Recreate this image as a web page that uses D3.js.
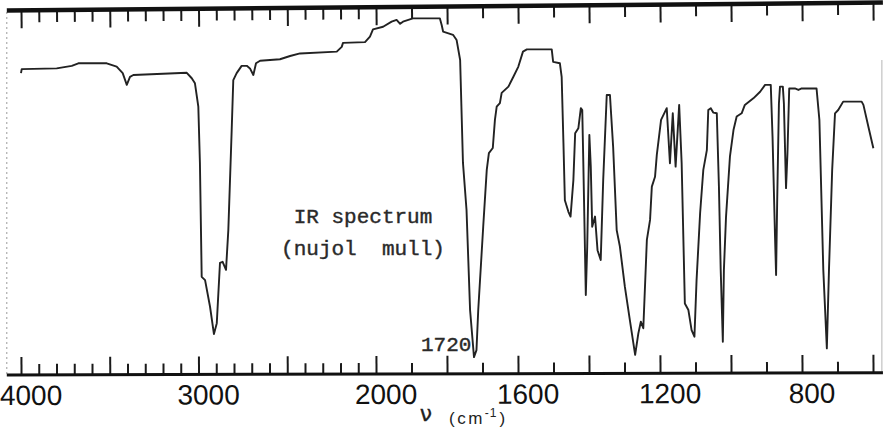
<!DOCTYPE html>
<html>
<head>
<meta charset="utf-8">
<script src="https://cdn.jsdelivr.net/npm/d3@7"></script>
<style>
  html, body { margin: 0; padding: 0; background: #ffffff; }
  svg { display: block; }
</style>
</head>
<body>
<svg id="chart" width="883" height="428"></svg>
<script>
// ---- data (wavenumber in cm^-1, transmittance in %) ----
const wavenumbers = [
  4000, 3996, 3799, 3714, 3677, 3517, 3461, 3427, 3404, 3386, 3367, 3066, 3038, 3020, 3001,
  2992, 2982, 2963, 2935, 2913, 2897, 2879, 2864, 2845, 2832, 2813, 2804, 2785, 2757, 2728,
  2710, 2691, 2676, 2653, 2541, 2484, 2428, 2221, 2193, 2186, 2062, 2034, 2017, 1980, 1956,
  1942, 1932, 1924, 1896, 1820, 1815, 1811, 1783, 1773, 1763, 1755, 1745, 1735, 1724, 1717,
  1712, 1698, 1688, 1682, 1671, 1665, 1660, 1651, 1646, 1627, 1613, 1599, 1586, 1575, 1505,
  1501, 1482, 1477, 1472, 1468, 1458, 1452, 1444, 1439, 1430, 1423, 1419, 1416, 1409, 1405,
  1399, 1395, 1391, 1383, 1376, 1367, 1360, 1350, 1341, 1332, 1322, 1313, 1299, 1285, 1270,
  1261, 1254, 1247, 1237, 1228, 1223, 1214, 1209, 1197, 1181, 1172, 1164, 1156, 1146, 1139,
  1130, 1120, 1111, 1103, 1097, 1087, 1078, 1068, 1064, 1057, 1050, 1040, 1034, 1029, 1023,
  1020, 1014, 1003, 993, 984, 970, 961, 937, 918, 904, 888, 883, 876, 873, 870,
  865, 862, 854, 851, 845, 841, 836, 820, 810, 801, 759, 751, 740, 730, 724,
  715, 707, 698, 684, 632, 627, 613, 599
];
const transmittance = [
  82.7, 83.8, 84.0, 84.7, 85.4, 85.4, 84.5, 82.7, 79.5, 81.7, 82.2, 82.8, 81.3, 79.9, 73.5,
  58.1, 26.9, 26.0, 18.7, 11.2, 14.2, 30.7, 31.0, 28.8, 39.7, 67.1, 80.8, 82.7, 84.7, 84.7,
  84.0, 82.2, 85.4, 86.1, 86.5, 87.4, 88.1, 88.6, 89.9, 91.0, 91.2, 92.7, 94.7, 95.4, 96.8,
  97.3, 96.2, 96.8, 97.7, 97.7, 95.9, 94.1, 93.2, 91.8, 86.3, 58.1, 45.2, 17.8, 4.9, 6.8,
  17.8, 40.6, 56.2, 60.8, 62.2, 69.9, 73.5, 74.5, 77.3, 79.0, 81.7, 84.5, 88.6, 89.2, 89.2,
  85.8, 85.4, 81.7, 63.6, 47.9, 44.7, 43.4, 53.4, 66.2, 67.6, 73.1, 72.6, 58.1, 21.9, 35.2,
  65.8, 57.1, 40.6, 43.4, 34.2, 31.5, 53.4, 76.7, 76.7, 62.5, 39.7, 35.2, 24.2, 15.1, 5.5,
  11.4, 14.6, 12.8, 37.0, 42.5, 51.6, 54.3, 60.3, 69.9, 73.1, 58.0, 71.7, 57.1, 74.0, 58.0,
  19.6, 17.8, 12.3, 10.5, 26.0, 44.3, 56.2, 61.6, 72.6, 73.1, 71.9, 71.7, 51.6, 28.8, 9.1,
  28.8, 43.4, 59.8, 67.1, 70.8, 71.7, 74.0, 75.8, 77.6, 79.5, 79.5, 65.3, 37.9, 27.4, 47.0,
  74.4, 79.0, 79.0, 74.4, 51.2, 60.7, 78.5, 78.5, 78.1, 78.5, 78.5, 69.9, 28.8, 7.3, 28.8,
  56.2, 71.7, 72.6, 74.9, 74.9, 74.0, 68.0, 62.1
];
const axisLabels = [4000, 3000, 2000, 1600, 1200, 800];
const titleLines = ["IR spectrum", "(nujol  mull)"];
const peakLabel = 1720;

// ---- scales ----
const xScale = d3.scaleLinear().domain([4000, 2000, 600]).range([21, 376, 873]);
const yScale = d3.scaleLinear().domain([0, 100]).range([375, 10]);

const svg = d3.select("#chart");
svg.append("rect").attr("width", 883).attr("height", 428).attr("fill", "#ffffff");

const tickVals = d3.range(4000, 599, -100);
const isLong = v => (v >= 2000 ? v % 500 === 0 : v % 200 === 0);

// faint side edges of the chart paper
svg.append("line")
  .attr("x1", xScale(4080)).attr("x2", xScale(4080)).attr("y1", 12).attr("y2", 374)
  .attr("stroke", "#9a9a9a").attr("stroke-width", 1).attr("stroke-dasharray", "2,3");
svg.append("line")
  .attr("x1", xScale(575)).attr("x2", xScale(575)).attr("y1", 60).attr("y2", 372)
  .attr("stroke", "#b5b5b5").attr("stroke-width", 1);

// ---- top axis (slightly tilted like the scanned chart) ----
const topG = svg.append("g")
  .attr("transform", `translate(0,10.5) rotate(-0.52, ${xScale(4080)}, 0)`);
topG.call(d3.axisTop(xScale).tickValues(tickVals).tickFormat("").tickSizeOuter(0));
topG.select(".domain").remove();
topG.selectAll(".tick line")
  .attr("y2", d => (isLong(d) ? 18 : 12))
  .attr("stroke", "#1a1a1a").attr("stroke-width", 2);
topG.append("line")
  .attr("x1", xScale(4080)).attr("x2", xScale(572)).attr("y1", 0).attr("y2", 0)
  .attr("stroke", "#111").attr("stroke-width", 4.5);

// ---- bottom axis ----
const bottomG = svg.append("g")
  .attr("transform", `translate(0,375) rotate(-0.15, ${xScale(4080)}, 0)`);
bottomG.call(d3.axisBottom(xScale).tickValues(tickVals).tickFormat("").tickSizeOuter(0));
bottomG.select(".domain").remove();
bottomG.selectAll(".tick line")
  .attr("y2", d => (isLong(d) ? -18 : -11))
  .attr("stroke", "#1a1a1a").attr("stroke-width", 2);
bottomG.append("line")
  .attr("x1", xScale(4080)).attr("x2", xScale(572)).attr("y1", 0).attr("y2", 0)
  .attr("stroke", "#111").attr("stroke-width", 3);
bottomG.selectAll("text.lbl")
  .data(axisLabels)
  .join("text")
  .attr("class", "lbl")
  .attr("x", d => xScale(d) + 10)
  .attr("y", 30)
  .attr("text-anchor", "middle")
  .attr("font-family", "'Liberation Sans', Arial, sans-serif")
  .attr("font-size", 28)
  .attr("fill", "#111")
  .text(d => d);

// axis title: nu (cm^-1)
svg.append("text")
  .attr("x", 426).attr("y", 421)
  .attr("text-anchor", "middle")
  .attr("font-family", "'DejaVu Sans', sans-serif")
  .attr("font-size", 22)
  .attr("fill", "#222")
  .attr("stroke", "#222")
  .attr("stroke-width", 0.3)
  .text("ν");
const unit = svg.append("text")
  .attr("x", 449).attr("y", 424)
  .attr("font-family", "'Liberation Sans', Arial, sans-serif")
  .attr("font-size", 17)
  .attr("letter-spacing", 2.5)
  .attr("fill", "#222");
unit.append("tspan").text("(cm");
unit.append("tspan").attr("dy", -7).attr("font-size", 12).attr("letter-spacing", 1).text("-1");
unit.append("tspan").attr("dy", 7).attr("dx", 2).text(")");

// ---- spectrum trace ----
const pts = wavenumbers.map((w, i) => [w, transmittance[i]]);
const lineGen = d3.line().x(d => xScale(d[0])).y(d => yScale(d[1]));
svg.append("path")
  .datum(pts)
  .attr("d", lineGen)
  .attr("fill", "none")
  .attr("stroke", "#222")
  .attr("stroke-width", 1.9)
  .attr("stroke-linejoin", "round");

// ---- annotations ----
svg.selectAll("text.title")
  .data(titleLines)
  .join("text")
  .attr("class", "title")
  .attr("x", 363)
  .attr("y", (d, i) => 223 + i * 32)
  .attr("text-anchor", "middle")
  .attr("font-family", "'Liberation Mono', 'Courier New', monospace")
  .attr("font-size", 21)
  .attr("fill", "#2a2a2a")
  .attr("stroke", "#2a2a2a")
  .attr("stroke-width", 0.4)
  .style("white-space", "pre")
  .text(d => d);

svg.append("text")
  .attr("x", xScale(peakLabel) - 4)
  .attr("y", 351)
  .attr("text-anchor", "end")
  .attr("font-family", "'Liberation Mono', 'Courier New', monospace")
  .attr("font-size", 21)
  .attr("fill", "#2a2a2a")
  .attr("stroke", "#2a2a2a")
  .attr("stroke-width", 0.4)
  .text(peakLabel);
</script>
</body>
</html>
